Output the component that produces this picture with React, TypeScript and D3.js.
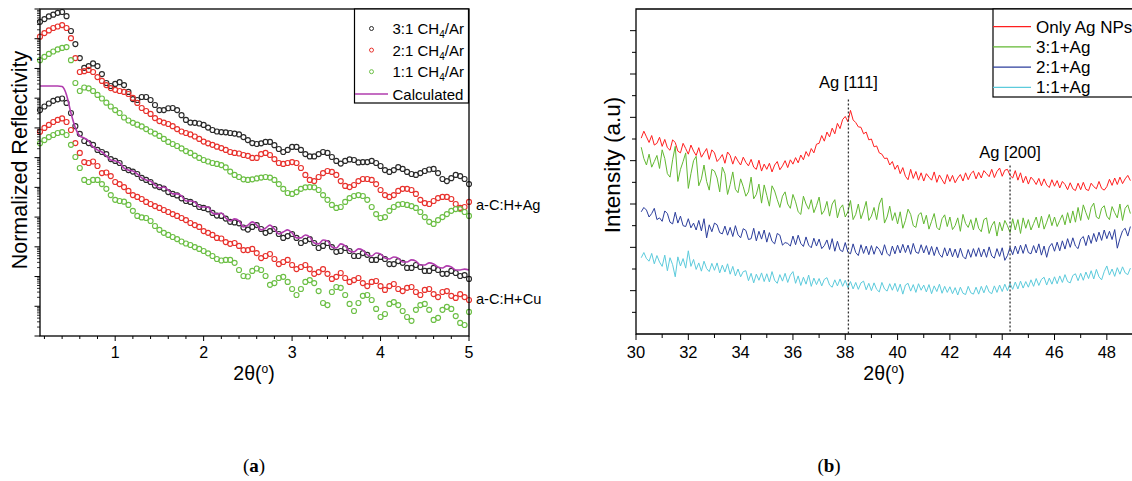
import { useRef, useEffect } from "react";
import * as d3 from "d3";

// ---------- panel (a): reflectivity, 2θ scan 0.15..5.00 step 0.05 ----------
const thetaA = d3.range(98).map((i) => +(0.15 + i * 0.05).toFixed(2));

// log10(normalized reflectivity)
const agBlack = [
  -0.43, -0.34, -0.25, -0.19, -0.13, -0.10, -0.24, -0.74, -1.18, -1.65,
  -1.98, -1.92, -1.83, -1.92, -2.19, -2.49, -2.59, -2.52, -2.46, -2.56,
  -2.79, -3.03, -3.06, -2.96, -2.96, -3.06, -3.23, -3.40, -3.40, -3.34,
  -3.33, -3.40, -3.57, -3.73, -3.82, -3.83, -3.85, -3.90, -3.99, -4.07,
  -4.12, -4.14, -4.15, -4.17, -4.19, -4.22, -4.31, -4.41, -4.51, -4.54,
  -4.52, -4.47, -4.47, -4.58, -4.71, -4.81, -4.74, -4.64, -4.64, -4.74,
  -4.88, -4.96, -4.96, -4.88, -4.81, -4.84, -4.98, -5.11, -5.20, -5.11,
  -5.06, -5.08, -5.16, -5.15, -5.15, -5.11, -5.18, -5.28, -5.42, -5.48,
  -5.42, -5.32, -5.38, -5.48, -5.55, -5.58, -5.52, -5.45, -5.40, -5.38,
  -5.52, -5.72, -5.79, -5.69, -5.58, -5.62, -5.72, -5.89,
];
const agRed = [
  -0.93, -0.81, -0.72, -0.64, -0.59, -0.54, -0.64, -0.98, -1.65, -2.12,
  -2.09, -2.05, -2.12, -2.29, -2.42, -2.56, -2.66, -2.72, -2.76, -2.79,
  -2.86, -2.99, -3.16, -3.33, -3.43, -3.53, -3.67, -3.77, -3.82, -3.87,
  -3.94, -4.04, -4.12, -4.17, -4.22, -4.29, -4.37, -4.46, -4.52, -4.57,
  -4.63, -4.68, -4.74, -4.81, -4.84, -4.86, -4.91, -4.94, -5.01, -5.01,
  -4.88, -4.84, -4.91, -5.05, -5.18, -5.21, -5.18, -5.15, -5.18, -5.35,
  -5.58, -5.75, -5.79, -5.65, -5.52, -5.45, -5.48, -5.58, -5.79, -5.95,
  -5.99, -5.92, -5.79, -5.72, -5.72, -5.75, -5.89, -6.09, -6.26, -6.32,
  -6.26, -6.12, -6.05, -6.05, -6.09, -6.22, -6.42, -6.53, -6.56, -6.46,
  -6.36, -6.32, -6.32, -6.39, -6.56, -6.69, -6.66, -6.49,
];
const agGreen = [
  -1.72, -1.61, -1.51, -1.43, -1.36, -1.31, -1.28, -1.72, -2.49, -2.76,
  -2.64, -2.67, -2.76, -2.89, -3.01, -3.15, -3.28, -3.40, -3.50, -3.65,
  -3.75, -3.83, -3.89, -3.95, -4.04, -4.12, -4.19, -4.27, -4.37, -4.47,
  -4.54, -4.61, -4.69, -4.78, -4.84, -4.93, -5.01, -5.08, -5.13, -5.18,
  -5.21, -5.25, -5.33, -5.47, -5.58, -5.65, -5.73, -5.75, -5.73, -5.70,
  -5.67, -5.65, -5.67, -5.75, -5.89, -6.05, -6.19, -6.22, -6.16, -6.05,
  -6.00, -5.99, -6.00, -6.09, -6.26, -6.42, -6.59, -6.69, -6.66, -6.49,
  -6.36, -6.29, -6.26, -6.29, -6.42, -6.66, -6.90, -7.03, -7.00, -6.79,
  -6.66, -6.58, -6.56, -6.59, -6.63, -6.69, -6.83, -7.00, -7.16, -7.23,
  -7.10, -7.00, -6.90, -6.79, -6.73, -6.73, -6.83, -6.96,
];
const cuBlack = [
  -3.40, -3.28, -3.18, -3.09, -3.04, -3.01, -3.16, -3.50, -3.94, -4.20,
  -4.44, -4.51, -4.57, -4.74, -4.81, -4.88, -5.05, -5.11, -5.18, -5.35,
  -5.42, -5.47, -5.55, -5.68, -5.75, -5.82, -5.94, -5.99, -6.04, -6.16,
  -6.22, -6.27, -6.37, -6.46, -6.49, -6.56, -6.66, -6.69, -6.74, -6.86,
  -6.95, -6.96, -7.05, -7.16, -7.18, -7.21, -7.35, -7.42, -7.33, -7.27,
  -7.40, -7.53, -7.47, -7.40, -7.57, -7.70, -7.64, -7.57, -7.70, -7.87,
  -7.80, -7.74, -7.87, -8.04, -7.97, -7.87, -8.01, -8.17, -8.14, -8.04,
  -8.14, -8.31, -8.31, -8.21, -8.27, -8.44, -8.44, -8.34, -8.41, -8.58,
  -8.58, -8.48, -8.54, -8.71, -8.71, -8.61, -8.68, -8.81, -8.81, -8.71,
  -8.78, -8.91, -8.91, -8.81, -8.88, -8.98, -8.95, -9.08,
];
const cuCalc = [
  -2.59, -2.59, -2.59, -2.59, -2.59, -2.61, -2.89, -3.50, -4.00, -4.27,
  -4.34, -4.44, -4.64, -4.74, -4.81, -4.94, -5.08, -5.11, -5.18, -5.35,
  -5.42, -5.45, -5.55, -5.68, -5.75, -5.79, -5.92, -6.02, -5.99, -6.09,
  -6.22, -6.22, -6.29, -6.46, -6.46, -6.49, -6.66, -6.66, -6.66, -6.86,
  -6.90, -6.86, -7.03, -7.13, -7.06, -7.13, -7.33, -7.27, -7.16, -7.27,
  -7.43, -7.37, -7.27, -7.40, -7.57, -7.50, -7.43, -7.53, -7.70, -7.70,
  -7.60, -7.67, -7.87, -7.90, -7.77, -7.80, -8.01, -8.04, -7.90, -7.97,
  -8.14, -8.17, -8.07, -8.11, -8.27, -8.31, -8.21, -8.24, -8.38, -8.41,
  -8.34, -8.38, -8.51, -8.51, -8.44, -8.48, -8.61, -8.61, -8.54, -8.58,
  -8.68, -8.71, -8.64, -8.68, -8.78, -8.78, -8.75, -8.78,
];
const cuRed = [
  -4.13, -4.00, -3.90, -3.80, -3.73, -3.68, -3.80, -4.07, -4.51, -4.84,
  -5.15, -5.18, -5.13, -5.28, -5.52, -5.50, -5.62, -5.82, -5.89, -5.99,
  -6.12, -6.26, -6.32, -6.39, -6.49, -6.56, -6.63, -6.69, -6.76, -6.83,
  -6.90, -6.96, -7.03, -7.10, -7.20, -7.27, -7.33, -7.47, -7.53, -7.60,
  -7.70, -7.72, -7.84, -7.90, -7.87, -7.97, -8.11, -8.11, -8.07, -8.21,
  -8.38, -8.31, -8.24, -8.41, -8.58, -8.51, -8.44, -8.61, -8.75, -8.68,
  -8.61, -8.75, -8.91, -8.85, -8.75, -8.91, -9.08, -9.01, -8.88, -9.05,
  -9.18, -9.12, -9.05, -9.22, -9.32, -9.18, -9.15, -9.32, -9.45, -9.32,
  -9.25, -9.42, -9.49, -9.38, -9.35, -9.52, -9.62, -9.45, -9.42, -9.59,
  -9.69, -9.52, -9.49, -9.65, -9.72, -9.59, -9.69, -9.79,
];
const cuGreen = [
  -4.52, -4.41, -4.31, -4.24, -4.17, -4.14, -4.24, -4.57, -4.98, -5.35,
  -5.75, -5.82, -5.75, -5.75, -5.89, -6.05, -6.26, -6.42, -6.46, -6.48,
  -6.59, -6.79, -6.96, -7.01, -7.03, -7.13, -7.30, -7.43, -7.53, -7.60,
  -7.67, -7.74, -7.82, -7.89, -7.94, -8.01, -8.07, -8.14, -8.22, -8.31,
  -8.41, -8.46, -8.44, -8.44, -8.54, -8.78, -8.98, -9.00, -8.81, -8.73,
  -8.78, -8.98, -9.28, -9.22, -9.05, -9.01, -9.18, -9.42, -9.62, -9.42,
  -9.18, -9.12, -9.22, -9.49, -9.89, -9.96, -9.52, -9.35, -9.38, -9.62,
  -9.92, -10.16, -9.89, -9.65, -9.62, -9.79, -10.09, -10.36, -10.26, -9.92,
  -9.86, -9.96, -10.16, -10.36, -10.49, -10.12, -9.96, -9.92, -10.12, -10.46,
  -10.39, -10.12, -10.02, -10.09, -10.33, -10.56, -10.63, -10.19,
];

// ---------- panel (b): XRD, 2θ scan 30.2..48.9 step 0.1 ----------
const thetaB = d3.range(188).map((i) => +(30.2 + i * 0.1).toFixed(1));

const onlyAg = [
  4.52, 4.68, 4.55, 4.42, 4.58, 4.36, 4.40, 4.54,
  4.33, 4.49, 4.30, 4.24, 4.48, 4.42, 4.22, 4.18, 4.40, 4.28,
  4.15, 4.36, 4.22, 4.12, 4.30, 4.08, 4.18, 4.28, 4.03, 4.25,
  4.18, 3.98, 4.05, 4.14, 3.94, 4.20, 4.12, 3.92, 4.10, 3.99,
  3.90, 4.08, 3.96, 3.88, 4.03, 3.85, 3.80, 4.01, 3.76, 3.92,
  3.80, 3.94, 3.74, 3.90, 3.98, 3.79, 3.88, 4.00, 3.84, 4.02,
  3.92, 4.07, 3.95, 4.13, 4.02, 4.21, 4.10, 4.28, 4.18, 4.38,
  4.40, 4.58, 4.45, 4.66, 4.55, 4.75, 4.62, 4.86, 4.74, 4.95,
  5.02, 4.90, 5.16, 4.94, 4.88, 4.78, 4.77, 4.62, 4.66, 4.48,
  4.50, 4.32, 4.34, 4.18, 4.15, 4.05, 4.06, 3.90, 3.98, 3.80,
  3.90, 3.70, 3.84, 3.64, 3.56, 3.80, 3.59, 3.75, 3.55, 3.72,
  3.53, 3.70, 3.62, 3.55, 3.74, 3.50, 3.67, 3.56, 3.46, 3.68,
  3.52, 3.66, 3.49, 3.60, 3.68, 3.53, 3.72, 3.56, 3.70, 3.76,
  3.58, 3.73, 3.60, 3.77, 3.70, 3.63, 3.80, 3.61, 3.75, 3.83,
  3.64, 3.78, 3.80, 3.66, 3.60, 3.77, 3.55, 3.72, 3.49, 3.64,
  3.46, 3.62, 3.55, 3.45, 3.59, 3.42, 3.58, 3.44, 3.38, 3.56,
  3.41, 3.54, 3.37, 3.52, 3.45, 3.33, 3.49, 3.35, 3.31, 3.48,
  3.33, 3.50, 3.34, 3.31, 3.48, 3.40, 3.35, 3.52, 3.36, 3.32,
  3.40, 3.57, 3.43, 3.60, 3.45, 3.62, 3.47, 3.58, 3.66, 3.54,
];
const ag31 = [
  4.31, 4.05, 3.90, 4.15, 3.85, 3.98, 4.12, 3.82,
  4.25, 4.05, 3.70, 3.62, 4.02, 4.33, 3.52, 3.80, 3.98, 4.18,
  3.36, 3.70, 4.00, 4.10, 3.42, 3.58, 3.90, 3.52, 3.32, 3.80,
  3.76, 3.60, 3.28, 3.85, 3.70, 3.22, 3.45, 3.74, 3.34, 3.26,
  3.58, 3.40, 3.18, 3.28, 3.62, 3.12, 3.22, 3.46, 3.02, 3.44,
  3.20, 2.95, 3.42, 3.30, 3.10, 2.92, 3.18, 3.28, 3.00, 2.90,
  3.22, 3.05, 2.82, 2.76, 3.18, 3.00, 2.88, 3.10, 2.80, 2.96,
  3.16, 2.76, 2.85, 3.06, 2.72, 3.00, 3.10, 2.68, 2.90, 2.98,
  2.70, 2.82, 3.08, 2.64, 2.76, 3.00, 2.66, 2.84, 3.06, 2.62,
  2.72, 2.92, 2.64, 3.00, 3.14, 2.56, 2.70, 2.95, 2.62, 2.80,
  2.54, 2.82, 2.44, 2.62, 2.88, 2.76, 2.50, 2.46, 2.75, 2.80,
  2.54, 2.74, 2.42, 2.60, 2.78, 2.46, 2.40, 2.66, 2.75, 2.48,
  2.70, 2.41, 2.50, 2.68, 2.37, 2.76, 2.55, 2.46, 2.64, 2.40,
  2.68, 2.44, 2.36, 2.64, 2.68, 2.32, 2.50, 2.60, 2.26, 2.58,
  2.38, 2.62, 2.50, 2.34, 2.66, 2.40, 2.64, 2.32, 2.68, 2.44,
  2.64, 2.40, 2.55, 2.70, 2.45, 2.72, 2.42, 2.58, 2.76, 2.50,
  2.70, 2.48, 2.62, 2.75, 2.52, 2.80, 2.56, 2.84, 2.58, 2.92,
  2.62, 2.98, 2.80, 2.64, 2.92, 3.02, 2.70, 2.66, 2.90, 2.96,
  2.72, 2.64, 2.94, 2.80, 2.68, 3.00, 2.62, 2.90, 2.98, 2.78,
];
const ag21 = [
  2.82, 2.92, 2.86, 2.70, 2.78, 2.90, 2.64, 2.68,
  2.60, 2.84, 2.78, 2.58, 2.54, 2.81, 2.56, 2.72, 2.50, 2.48,
  2.66, 2.45, 2.56, 2.40, 2.62, 2.38, 2.66, 2.22, 2.52, 2.36,
  2.56, 2.52, 2.34, 2.31, 2.49, 2.28, 2.46, 2.25, 2.50, 2.29,
  2.22, 2.43, 2.39, 2.18, 2.20, 2.44, 2.15, 2.37, 2.19, 2.40,
  2.12, 2.34, 2.14, 2.08, 2.32, 2.28, 2.05, 2.11, 2.09, 2.03,
  2.26, 2.06, 2.28, 2.09, 2.02, 2.24, 2.05, 1.99, 2.21, 2.03,
  2.19, 1.97, 2.04, 2.17, 1.95, 2.20, 1.91, 2.14, 1.94, 1.90,
  2.11, 1.89, 1.85, 2.08, 1.88, 1.81, 2.06, 1.86, 2.03, 1.83,
  2.04, 1.84, 2.02, 1.95, 1.82, 2.06, 1.86, 1.80, 2.03, 1.85,
  2.05, 1.87, 2.07, 1.88, 2.05, 1.84, 2.09, 1.89, 1.86, 2.06,
  1.87, 2.04, 1.83, 2.02, 1.81, 2.01, 1.84, 1.77, 1.99, 1.80,
  1.98, 1.78, 1.96, 1.76, 1.98, 1.79, 1.73, 1.95, 1.77, 1.97,
  1.79, 1.99, 1.78, 1.96, 1.77, 2.01, 1.80, 1.75, 1.97, 1.79,
  1.99, 1.70, 1.81, 2.00, 1.83, 2.03, 1.85, 2.05, 1.86, 2.07,
  1.88, 1.85, 2.04, 1.87, 2.08, 1.82, 2.03, 1.77, 2.01, 2.09,
  1.91, 2.12, 1.92, 2.15, 1.96, 2.20, 2.00, 2.22, 2.03, 1.97,
  2.19, 2.25, 2.04, 2.28, 2.09, 2.32, 2.13, 2.35, 2.16, 2.40,
  2.20, 2.37, 2.18, 2.41, 1.98, 2.20, 2.38, 2.44, 2.26, 2.48,
];
const ag11 = [
  1.76, 1.88, 1.74, 1.68, 1.86, 1.62, 1.81, 1.66,
  1.56, 1.82, 1.46, 1.76, 1.60, 1.32, 1.78, 1.57, 1.74, 1.52,
  1.92, 1.56, 1.72, 1.49, 1.64, 1.45, 1.68, 1.51, 1.44, 1.63,
  1.47, 1.64, 1.41, 1.59, 1.43, 1.62, 1.38, 1.56, 1.34, 1.50,
  1.32, 1.44, 1.46, 1.23, 1.40, 1.18, 1.38, 1.24, 1.41, 1.21,
  1.39, 1.20, 1.44, 1.24, 1.17, 1.37, 1.22, 1.40, 1.19, 1.36,
  1.44, 1.17, 1.34, 1.12, 1.31, 1.15, 1.36, 1.10, 1.29, 1.14,
  1.28, 1.11, 1.26, 1.30, 1.13, 1.08, 1.25, 1.11, 1.27, 1.10,
  1.24, 1.07, 1.21, 1.04, 1.19, 1.03, 1.18, 1.22, 1.02, 1.17,
  1.00, 1.18, 1.03, 0.97, 1.19, 1.04, 0.99, 1.16, 1.01, 1.17,
  0.98, 1.15, 0.92, 1.13, 1.17, 0.99, 1.14, 0.96, 1.16, 1.01,
  1.13, 0.97, 1.14, 0.93, 1.11, 0.98, 1.15, 0.94, 1.10, 0.96,
  1.09, 0.93, 1.07, 0.90, 1.08, 0.94, 0.91, 1.10, 0.95, 0.92,
  1.08, 0.92, 1.10, 0.95, 1.12, 0.97, 0.93, 1.11, 0.96, 1.13,
  0.98, 1.15, 1.00, 1.17, 1.03, 1.20, 1.04, 1.22, 1.06, 1.21,
  1.08, 1.25, 1.10, 1.28, 1.12, 1.26, 1.31, 1.13, 1.29, 1.15,
  1.32, 1.16, 1.34, 1.19, 1.37, 1.21, 1.18, 1.35, 1.39, 1.23,
  1.40, 1.24, 1.43, 1.28, 1.46, 1.27, 1.49, 1.32, 1.25, 1.44,
  1.57, 1.36, 1.50, 1.33, 1.53, 1.38, 1.55, 1.41, 1.37, 1.52,
];

const peakNames = ["Ag [111]", "Ag [200]"];
const peakPos = [38.12, 44.3];

const legendA = ["3:1", "2:1", "1:1"];
const legendB = ["Only Ag NPs", "3:1+Ag", "2:1+Ag", "1:1+Ag"];

export default function App() {
  const svgRef = useRef<SVGSVGElement>(null);

  useEffect(() => {
    const svg = d3.select(svgRef.current);
    svg.selectAll("*").remove();
    const font = "Arial, 'Liberation Sans', Helvetica, sans-serif";
    svg.attr("font-family", font);

    const black = "#2a2a2a";
    const cRed = "#e8322d";
    const cGreen = "#6cbf45";
    const cPurple = "#b13cae";

    // ================= panel (a) =================
    const xA = d3.scaleLinear().domain([0.15, 5]).range([40, 469]);
    const yA = d3.scaleLog().domain([1e-11, 1]).range([336, 9]);
    const gA = svg.append("g");

    const seriesA = [
      { v: agBlack, c: black },
      { v: agRed, c: cRed },
      { v: agGreen, c: cGreen },
      { v: cuBlack, c: black },
      { v: cuRed, c: cRed },
      { v: cuGreen, c: cGreen },
    ];
    seriesA.forEach((s) => {
      gA.append("g")
        .selectAll("circle")
        .data(s.v)
        .enter()
        .append("circle")
        .attr("cx", (_, i) => xA(thetaA[i]))
        .attr("cy", (d) => yA(Math.pow(10, d)))
        .attr("r", 2.5)
        .attr("fill", "none")
        .attr("stroke", s.c)
        .attr("stroke-width", 1.15);
    });

    const lineA = d3
      .line<number>()
      .x((_, i) => xA(thetaA[i]))
      .y((d) => yA(Math.pow(10, d)))
      .curve(d3.curveMonotoneX);
    gA.append("path")
      .datum(cuCalc)
      .attr("fill", "none")
      .attr("stroke", cPurple)
      .attr("stroke-width", 1.6)
      .attr("d", lineA);

    // frame
    gA.append("rect")
      .attr("x", 40)
      .attr("y", 9)
      .attr("width", 429)
      .attr("height", 327)
      .attr("fill", "none")
      .attr("stroke", "#000")
      .attr("stroke-width", 1.3);

    // x ticks
    const majA = [1, 2, 3, 4, 5];
    const minA = d3.range(1, 25).map((i) => i * 0.2).filter((t) => Math.abs(t - Math.round(t)) > 0.01);
    gA.selectAll(".xmin")
      .data(minA)
      .enter()
      .append("line")
      .attr("x1", (d) => xA(d))
      .attr("x2", (d) => xA(d))
      .attr("y1", 336)
      .attr("y2", 339)
      .attr("stroke", "#000");
    gA.selectAll(".xmaj")
      .data(majA)
      .enter()
      .append("line")
      .attr("x1", (d) => xA(d))
      .attr("x2", (d) => xA(d))
      .attr("y1", 336)
      .attr("y2", 341)
      .attr("stroke", "#000");
    gA.selectAll(".xlab")
      .data(majA)
      .enter()
      .append("text")
      .attr("x", (d) => xA(d))
      .attr("y", 358)
      .attr("text-anchor", "middle")
      .attr("font-size", 16)
      .text((d) => d);

    // y ticks (log)
    const decA = d3.range(-11, 1).map((k) => Math.pow(10, k));
    const minYA: number[] = [];
    d3.range(-11, 0).forEach((k) => {
      for (let m = 2; m <= 9; m++) minYA.push(m * Math.pow(10, k));
    });
    gA.selectAll(".ymin")
      .data(minYA)
      .enter()
      .append("line")
      .attr("x1", 37)
      .attr("x2", 40)
      .attr("y1", (d) => yA(d))
      .attr("y2", (d) => yA(d))
      .attr("stroke", "#000")
      .attr("stroke-width", 0.8);
    gA.selectAll(".ymaj")
      .data(decA)
      .enter()
      .append("line")
      .attr("x1", 34.5)
      .attr("x2", 40)
      .attr("y1", (d) => yA(d))
      .attr("y2", (d) => yA(d))
      .attr("stroke", "#000");

    // titles
    gA.append("text")
      .attr("transform", "translate(27,160) rotate(-90)")
      .attr("text-anchor", "middle")
      .attr("font-size", 21.5)
      .text("Normalized Reflectivity");
    const xtA = gA.append("text")
      .attr("x", 254)
      .attr("y", 380)
      .attr("text-anchor", "middle")
      .attr("font-size", 19.5);
    xtA.append("tspan").text("2θ(");
    xtA.append("tspan").attr("font-size", 12).attr("dy", -7).text("o");
    xtA.append("tspan").attr("dy", 7).text(")");

    gA.append("text").attr("x", 476).attr("y", 210).attr("font-size", 14.6).text("a-C:H+Ag");
    gA.append("text").attr("x", 476).attr("y", 304).attr("font-size", 14.6).text("a-C:H+Cu");

    // legend (a)
    const lgA = gA.append("g");
    lgA.append("rect")
      .attr("x", 354.5)
      .attr("y", 9)
      .attr("width", 114)
      .attr("height", 94)
      .attr("fill", "#fff")
      .attr("stroke", "#000")
      .attr("stroke-width", 1.2);
    const lgColors = [black, cRed, cGreen];
    legendA.forEach((name, i) => {
      const y = 28.5 + i * 21.6;
      lgA.append("circle")
        .attr("cx", 371.5)
        .attr("cy", y)
        .attr("r", 2)
        .attr("fill", "none")
        .attr("stroke", lgColors[i])
        .attr("stroke-width", 1);
      const t = lgA.append("text").attr("x", 392.5).attr("y", y + 5.5).attr("font-size", 15);
      t.append("tspan").text(name + " CH");
      t.append("tspan").attr("font-size", 10).attr("dy", 4).text("4");
      t.append("tspan").attr("dy", -4).text("/Ar");
    });
    lgA.append("line")
      .attr("x1", 355)
      .attr("x2", 388)
      .attr("y1", 94)
      .attr("y2", 94)
      .attr("stroke", cPurple)
      .attr("stroke-width", 1.6);
    lgA.append("text").attr("x", 392.5).attr("y", 99.5).attr("font-size", 15).text("Calculated");

    // ================= panel (b) =================
    const xB = d3.scaleLinear().domain([30, 49]).range([636, 1133]);
    const yB = d3.scaleLinear().domain([0, 7.5]).range([334, 9]);
    const gB = svg.append("g");

    const seriesB = [
      { v: onlyAg, c: "#ff1f1f" },
      { v: ag31, c: "#62b832" },
      { v: ag21, c: "#2c3e9c" },
      { v: ag11, c: "#5ccbdc" },
    ];
    const lineB = d3
      .line<number>()
      .x((_, i) => xB(thetaB[i]))
      .y((d) => yB(d));
    seriesB.forEach((s) => {
      gB.append("path")
        .datum(s.v)
        .attr("fill", "none")
        .attr("stroke", s.c)
        .attr("stroke-width", 1)
        .attr("d", lineB);
    });

    // peak markers
    const peakTop = [5.41, 3.89];
    const labelY = [5.68, 4.07];
    peakPos.forEach((p, i) => {
      gB.append("line")
        .attr("x1", xB(p))
        .attr("x2", xB(p))
        .attr("y1", yB(peakTop[i]))
        .attr("y2", yB(0))
        .attr("stroke", "#333")
        .attr("stroke-width", 1.3)
        .attr("stroke-dasharray", "2,2");
      gB.append("text")
        .attr("x", xB(p))
        .attr("y", yB(labelY[i]))
        .attr("text-anchor", "middle")
        .attr("font-size", 16.5)
        .text(peakNames[i]);
    });

    // axes
    gB.append("path")
      .attr("d", `M1133,9H636V334H1133`)
      .attr("fill", "none")
      .attr("stroke", "#000")
      .attr("stroke-width", 1.3);
    const majB = d3.range(30, 50, 2);
    const minB = d3.range(31, 50, 2);
    gB.selectAll(".bxmin")
      .data(minB)
      .enter()
      .append("line")
      .attr("x1", (d) => xB(d))
      .attr("x2", (d) => xB(d))
      .attr("y1", 334)
      .attr("y2", 338)
      .attr("stroke", "#000");
    gB.selectAll(".bxmaj")
      .data(majB)
      .enter()
      .append("line")
      .attr("x1", (d) => xB(d))
      .attr("x2", (d) => xB(d))
      .attr("y1", 334)
      .attr("y2", 340)
      .attr("stroke", "#000");
    gB.selectAll(".bxlab")
      .data(majB)
      .enter()
      .append("text")
      .attr("x", (d) => xB(d))
      .attr("y", 358)
      .attr("text-anchor", "middle")
      .attr("font-size", 16.5)
      .text((d) => d);
    const yTicksB = d3.range(1, 15).map((i) => i * 0.5);
    gB.selectAll(".bytick")
      .data(yTicksB)
      .enter()
      .append("line")
      .attr("x1", (d) => (d % 1 === 0 ? 630 : 632))
      .attr("x2", 636)
      .attr("y1", (d) => yB(d))
      .attr("y2", (d) => yB(d))
      .attr("stroke", "#000");

    gB.append("text")
      .attr("transform", "translate(620,165) rotate(-90)")
      .attr("text-anchor", "middle")
      .attr("font-size", 22.5)
      .text("Intensity (a.u)");
    const xtB = gB.append("text")
      .attr("x", 884)
      .attr("y", 380)
      .attr("text-anchor", "middle")
      .attr("font-size", 19.5);
    xtB.append("tspan").text("2θ(");
    xtB.append("tspan").attr("font-size", 12).attr("dy", -7).text("o");
    xtB.append("tspan").attr("dy", 7).text(")");

    // legend (b)
    const lgB = gB.append("g");
    lgB.append("rect")
      .attr("x", 993)
      .attr("y", 9)
      .attr("width", 150)
      .attr("height", 88)
      .attr("fill", "#fff")
      .attr("stroke", "#000")
      .attr("stroke-width", 1.2);
    legendB.forEach((name, i) => {
      const y = 26.7 + i * 20.2;
      lgB.append("line")
        .attr("x1", 993)
        .attr("x2", 1031)
        .attr("y1", y)
        .attr("y2", y)
        .attr("stroke", seriesB[i].c)
        .attr("stroke-width", 1.2);
      lgB.append("text").attr("x", 1036).attr("y", y + 6).attr("font-size", 17).text(name);
    });

    // captions
    [
      { x: 254, l: "a" },
      { x: 829, l: "b" },
    ].forEach((c) => {
      const t = svg.append("text")
        .attr("x", c.x)
        .attr("y", 472)
        .attr("text-anchor", "middle")
        .attr("font-family", "'Liberation Serif', 'DejaVu Serif', serif")
        .attr("font-size", 19);
      t.append("tspan").text("(");
      t.append("tspan").attr("font-weight", "bold").text(c.l);
      t.append("tspan").text(")");
    });
  }, []);

  return (
    <svg
      ref={svgRef}
      width={1132}
      height={481}
      style={{ position: "absolute", left: 0, top: 0, background: "#fff" }}
    />
  );
}
